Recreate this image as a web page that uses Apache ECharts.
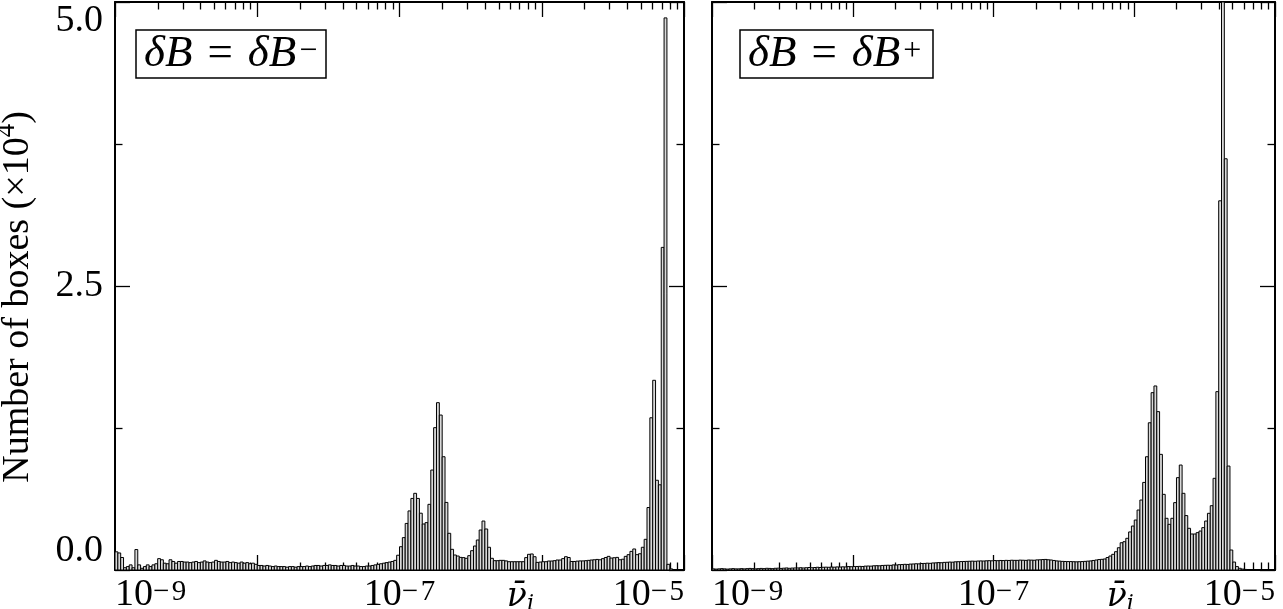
<!DOCTYPE html>
<html><head><meta charset="utf-8">
<script src="https://cdn.jsdelivr.net/npm/echarts@6/dist/echarts.min.js"></script>
<style>html,body{margin:0;padding:0;background:#fff}#c{width:1283px;height:609px}</style>
</head><body><div id="c"></div><script>
// ---- data ----
const binStart = -9;      // log10(nu) of first bin edge
const binWidth = 0.02;    // bin width in log10(nu)
const countsMinus = [
0.16,0.15,0.11,0.02,0.03,0.045,0.02,0.18,0.045,0.015,0.03,0.045,0.03,0.045,0.055,0.10,0.09,0.06,0.055,0.09,0.075,0.06,0.075,
0.075,0.07,0.07,0.065,0.07,0.075,0.065,0.07,0.08,0.07,0.065,0.07,0.085,0.075,0.07,0.07,0.075,0.065,0.07,0.065,0.06,0.07,0.06,0.065,0.055,0.06,0.05,
0.04,0.04,0.035,0.04,0.035,0.03,0.035,0.03,0.03,0.03,0.025,0.03,0.03,0.025,0.03,0.03,0.03,0.035,0.03,0.035,0.04,0.04,0.035,0.04,0.04,0.045,0.04,0.04,0.035,0.04,0.04,0.035,0.035,0.04,0.035,0.035,
0.03,0.03,0.035,0.035,0.04,0.045,0.05,0.055,0.06,0.065,0.07,0.075,0.085,0.13,0.205,0.285,0.41,0.52,0.63,0.675,0.63,0.5,0.405,0.417,0.578,0.88,1.253,1.473,1.364,0.997,0.595,0.323,0.182,0.132,0.123,0.111,0.109,0.103,0.126,0.17,0.211,0.264,0.352,0.431,0.361,0.2,0.103,0.082,0.082,0.085,0.085,0.08,0.073,0.073,0.073,0.073,0.073,0.073,0.109,0.138,0.141,0.117,0.067,0.07,0.073,0.073,0.079,0.079,0.082,0.088,0.088,
0.1,0.117,0.11,0.075,0.075,0.078,0.08,0.08,0.082,0.085,0.088,0.09,0.093,0.09,0.1,0.11,0.12,0.105,
0.108,0.111,0.09,0.095,0.12,0.135,0.164,0.185,0.135,0.143,0.2,0.27,0.55,1.34,1.67,0.79,0.75,2.84,4.86,0.05,0.01,0,0,0,0
];
const countsPlus = [
0.01,0.008,0.01,0.012,0.01,0.008,0.01,0.012,0.01,0.01,0.012,0.01,0.012,0.014,0.012,0.01,0.012,0.014,0.012,0.015,0.014,0.012,0.015,0.016,0.014,0.016,0.018,0.015,0.017,0.018,
0.018,0.02,0.018,0.02,0.022,0.02,0.022,0.024,0.022,0.024,0.025,0.024,0.026,0.025,0.027,0.026,0.028,0.027,0.03,0.029,
0.03,0.031,0.032,0.031,0.034,0.035,0.034,0.037,0.038,0.037,0.04,0.041,0.042,0.041,0.045,0.044,0.047,0.048,0.05,0.049,0.052,0.053,0.055,0.054,0.057,0.058,0.06,0.059,0.062,0.063,0.065,0.064,0.067,0.068,0.07,0.069,0.072,0.073,0.074,0.075,0.076,0.077,0.078,0.077,0.079,0.08,0.079,0.081,0.082,0.081,
0.083,0.082,0.084,0.083,0.085,0.084,0.086,0.085,0.085,0.087,0.086,0.085,0.088,0.087,0.086,0.089,0.09,
0.092,0.093,0.09,0.088,0.084,
0.08,0.078,0.076,0.075,0.074,0.074,0.073,0.072,0.073,0.074,0.076,0.078,
0.08,0.084,0.088,0.092,
0.094,0.097,0.11,0.123,0.138,0.161,0.196,0.24,0.249,0.279,0.335,0.387,0.44,0.528,0.616,0.771,0.997,1.296,1.561,1.62,1.394,1.018,0.666,0.455,0.402,0.455,0.593,0.813,0.924,0.675,0.479,0.367,0.317,0.317,0.329,0.343,0.373,0.431,0.499,0.566,0.807,1.57,
3.25,5.0,3.62,0.915,0.176,0.07,0.03,0.015,0.008,0.005,0,0,0,0,0,0,0,0,0,0
];
const yTickValues = [0, 2.5, 5];
const xMajorTicks = [-9, -8, -7, -6, -5];
const xLabelsMinus = [[-9, '10', '−9'], [-7, '10', '−7'], [-6.15, 'nu', ''], [-5, '10', '−5']];
const xLabelsPlus  = [[-9, '10', '−9'], [-7, '10', '−7'], [-6.1, 'nu', ''], [-5, '10', '−5']];
const panelLabels = ['−', '+'];
const yAxisTitle = ['Number of boxes (×10', '4', ')'];

// ---- rendering ----
const FONT = 'Liberation Serif';
const xMinorTicks = [];
for (let n = -9; n < -5; n++) for (let k = 2; k <= 9; k++) xMinorTicks.push(n + Math.log10(k));

const grids = [
  {left: 115, top: 2, width: 569, height: 568, outerBoundsMode: 'none', containLabel: false},
  {left: 712, top: 2, width: 563, height: 568, outerBoundsMode: 'none', containLabel: false}
];
const tickStyle = {color: '#000', width: 1.3};
const lineStyle = {color: '#000', width: 2};
const rich = {
  b: {fontFamily: FONT, fontSize: 38, lineHeight: 36, color: '#000', verticalAlign: 'bottom'},
  s: {fontFamily: FONT, fontSize: 29, lineHeight: 26, color: '#000', verticalAlign: 'top'},
  nu: {fontFamily: 'DejaVu Serif', fontSize: 33, lineHeight: 36, fontStyle: 'italic', color: '#000', verticalAlign: 'bottom'},
  sub: {fontFamily: 'DejaVu Serif', fontSize: 22, lineHeight: 24, fontStyle: 'italic', color: '#000', verticalAlign: 'bottom', padding: [0, 0, -1, 0]}
};
function makeFormatter(list) {
  return function (v) {
    for (const e of list) {
      if (Math.abs(e[0] - v) < 1e-6) {
        if (e[1] === 'nu') return '{nu|ν̄}{sub|i}';
        return '{b|' + e[1] + '}{s|' + e[2].replace('−', '−\u200A') + '}';
      }
    }
    return '';
  };
}
const xAxes = [], yAxes = [];
[0, 1].forEach(function (g) {
  const labels = g === 0 ? xLabelsMinus : xLabelsPlus;
  const base = {type: 'value', gridIndex: g, min: -9, max: -5, splitLine: {show: false}};
  xAxes.push(Object.assign({}, base, {
    position: 'bottom',
    axisLine: {show: true, lineStyle: lineStyle},
    axisTick: {show: true, inside: true, length: 15, lineStyle: tickStyle, customValues: xMajorTicks},
    axisLabel: {show: true, margin: 8, customValues: labels.map(function (e) { return e[0]; }),
      formatter: makeFormatter(labels), rich: rich, alignMinLabel: 'left', alignMaxLabel: 'right'}
  }));
  xAxes.push(Object.assign({}, base, {
    position: 'bottom', axisLine: {show: false},
    axisTick: {show: true, inside: true, length: 7.5, lineStyle: tickStyle, customValues: xMinorTicks},
    axisLabel: {show: false}
  }));
  xAxes.push(Object.assign({}, base, {
    position: 'top', axisLine: {show: true, lineStyle: lineStyle},
    axisTick: {show: true, inside: true, length: 15, lineStyle: tickStyle, customValues: xMajorTicks},
    axisLabel: {show: false}
  }));
  xAxes.push(Object.assign({}, base, {
    position: 'top', axisLine: {show: false},
    axisTick: {show: true, inside: true, length: 7.5, lineStyle: tickStyle, customValues: xMinorTicks},
    axisLabel: {show: false}
  }));
  const ybase = {type: 'value', gridIndex: g, min: 0, max: 5, interval: 2.5, splitLine: {show: false},
    axisLine: {show: true, lineStyle: lineStyle},
    axisTick: {show: true, inside: true, length: 15, lineStyle: tickStyle},
    minorTick: {show: true, splitNumber: 2, length: 7.5, lineStyle: tickStyle}};
  yAxes.push(Object.assign({}, ybase, {
    position: 'left',
    axisLabel: g === 0 ? {show: true, margin: 12, fontFamily: FONT, fontSize: 38, color: '#000',
      formatter: function (v) { return v.toFixed(1); },
      verticalAlignMinLabel: 'bottom', verticalAlignMaxLabel: 'top'} : {show: false},
    name: g === 0 ? '{t|' + yAxisTitle[0] + '}{s|' + yAxisTitle[1] + '}{e|' + yAxisTitle[2] + '}' : '',
    nameLocation: 'middle', nameRotate: 90, nameGap: 78,
    nameTextStyle: {rich: {
      t: {fontFamily: FONT, fontSize: 38, color: '#000', padding: [6, 0, 0, 0], verticalAlign: 'bottom'},
      s: {fontFamily: FONT, fontSize: 27, color: '#000', verticalAlign: 'top'},
      e: {fontFamily: FONT, fontSize: 38, color: '#000', padding: [6, 22, 0, 0], verticalAlign: 'bottom'}
    }}
  }));
  yAxes.push(Object.assign({}, ybase, {position: 'right', axisLabel: {show: false}}));
});

function renderBin(params, api) {
  const x0 = api.value(0), x1 = api.value(1), v = api.value(2);
  if (!(v > 0)) return null;
  const p0 = api.coord([x0, v]);
  const p1 = api.coord([x1, 0]);
  return {type: 'rect',
    shape: {x: p0[0], y: p0[1], width: p1[0] - p0[0], height: p1[1] - p0[1]},
    style: {fill: '#d9d9d9', stroke: '#000', lineWidth: 1}};
}
function toBins(arr) {
  return arr.map(function (v, i) { return [binStart + i * binWidth, binStart + (i + 1) * binWidth, v]; });
}
const annRich = {
  i: {fontFamily: FONT, fontSize: 45, lineHeight: 41, fontStyle: 'italic', fontWeight: 'normal', color: '#000', verticalAlign: 'bottom'},
  n: {fontFamily: FONT, fontSize: 45, lineHeight: 41, fontWeight: 'normal', color: '#000', padding: [0, 15, 0, 15], verticalAlign: 'bottom'},
  s: {fontFamily: FONT, fontSize: 32, lineHeight: 30, fontWeight: 'normal', color: '#000', verticalAlign: 'top', padding: [0, 0, 0, 3]}
};
const option = {
  backgroundColor: '#fff',
  animation: false,
  title: [
    {text: '{i|δB}{n|=}{i|δB}{s|' + panelLabels[0] + '}', left: 136, top: 34, borderColor: '#000', borderWidth: 1.5,
      padding: [2, 9, 1, 8], textStyle: {fontWeight: 'normal', rich: annRich}},
    {text: '{i|δB}{n|=}{i|δB}{s|' + panelLabels[1] + '}', left: 740, top: 34, borderColor: '#000', borderWidth: 1.5,
      padding: [2, 12, 1, 8], textStyle: {fontWeight: 'normal', rich: annRich}}
  ],
  grid: grids,
  xAxis: xAxes,
  yAxis: yAxes,
  series: [
    {type: 'custom', xAxisIndex: 0, yAxisIndex: 0, clip: true, renderItem: renderBin,
      encode: {x: [0, 1], y: 2}, data: toBins(countsMinus)},
    {type: 'custom', xAxisIndex: 4, yAxisIndex: 2, clip: true, renderItem: renderBin,
      encode: {x: [0, 1], y: 2}, data: toBins(countsPlus)}
  ]
};
const chart = echarts.init(document.getElementById('c'), null, {renderer: 'canvas'});
chart.setOption(option);
</script></body></html>
